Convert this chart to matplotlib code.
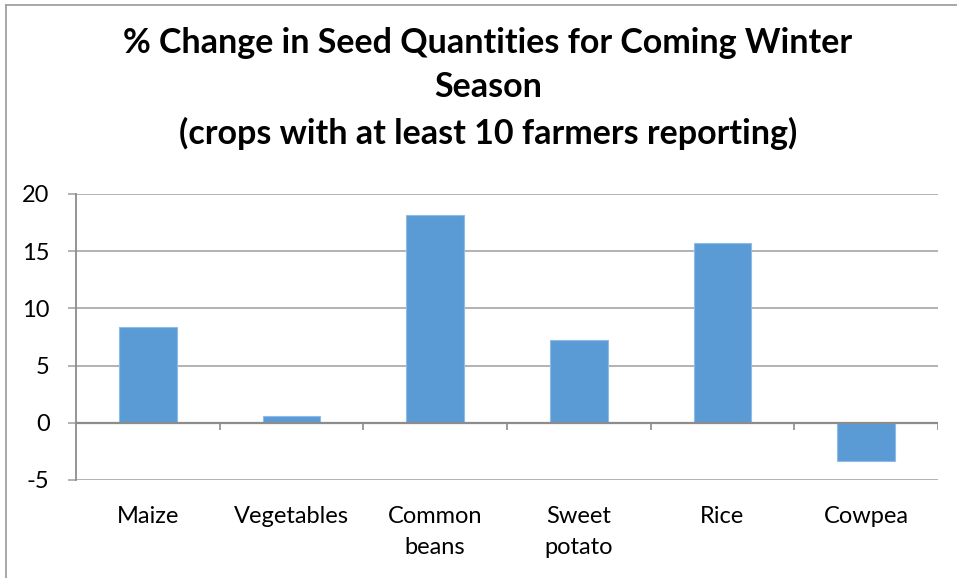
import matplotlib
matplotlib.use("Agg")
import matplotlib.pyplot as plt
from matplotlib.lines import Line2D

crops = ["Maize", "Vegetables", "Common\nbeans", "Sweet\npotato", "Rice", "Cowpea"]
pct_change = [8.4, 0.6, 18.15, 7.2, 15.7, -3.3]
y_ticks = [-5, 0, 5, 10, 15, 20]

title_lines = [
    "% Change in Seed Quantities for Coming Winter",
    "Season",
    "(crops with at least 10 farmers reporting)",
]

plt.rcParams["font.family"] = ["Lato", "DejaVu Sans"]

W, H = 957, 578
fig = plt.figure(figsize=(W / 100, H / 100), dpi=100)

# chart frame: left and top edges
frame_x = 5.5 / W
frame_y = 1 - 5 / H
fig.add_artist(Line2D([frame_x, frame_x], [0, frame_y], transform=fig.transFigure,
                      color="#a0a0a0", linewidth=1.3))
fig.add_artist(Line2D([frame_x, 1], [frame_y, frame_y], transform=fig.transFigure,
                      color="#a0a0a0", linewidth=1.3))

ax = fig.add_axes([76 / W, 1 - 480 / H, (938 - 76) / W, (480 - 194) / H])
x = list(range(len(crops)))
ax.bar(x, pct_change, width=0.4, color="#5b9bd5", edgecolor="#8fbbe6", linewidth=0.8, zorder=3)

ax.set_xlim(-0.5, len(crops) - 0.5)
ax.set_ylim(-5, 20)
ax.set_yticks(y_ticks)
ax.set_yticklabels([str(v) for v in y_ticks], fontsize=17)
ax.yaxis.grid(True, color="#a6a6a6", linewidth=1.2, zorder=0)
ax.tick_params(axis="y", length=6, color="#a6a6a6", width=1.2, pad=13)

for s in ["top", "right", "bottom"]:
    ax.spines[s].set_visible(False)
ax.spines["left"].set_color("#8c8c8c")
ax.spines["left"].set_linewidth(1.3)

# zero baseline with category divider ticks
ax.axhline(0, color="#8c8c8c", linewidth=1.6, zorder=4)
ax.vlines([i + 0.5 for i in range(len(crops))], -0.65, 0, color="#8c8c8c", linewidth=1.2, zorder=4)

ax.set_xticks(x)
ax.set_xticklabels(crops, fontsize=17, linespacing=1.55)
ax.tick_params(axis="x", length=0, pad=19)

for line, yy in zip(title_lines, [43, 87, 133]):
    fig.text(488 / W, 1 - yy / H, line, ha="center", va="center",
             fontsize=24.5, fontweight="bold")

fig.savefig("out.png", dpi=100)
